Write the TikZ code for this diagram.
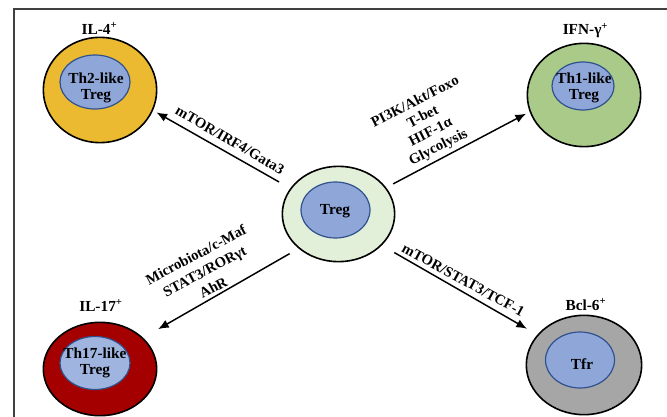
\documentclass[tikz,border=0pt]{standalone}
\usepackage{fontspec}
\setmainfont{Liberation Serif}
\usetikzlibrary{shapes.geometric,arrows.meta}
\definecolor{cYellow}{RGB}{236,186,48}
\definecolor{cGreen}{RGB}{170,202,138}
\definecolor{cRed}{RGB}{165,0,0}
\definecolor{cGray}{RGB}{166,166,166}
\definecolor{cPale}{RGB}{226,240,217}
\definecolor{cBlue}{RGB}{143,166,216}
\definecolor{cBlueLight}{RGB}{160,180,224}
\definecolor{cBorder}{RGB}{47,82,143}
\definecolor{cFrame}{RGB}{64,64,64}
\begin{document}
\begin{tikzpicture}[x=0.75pt,y=-0.75pt,
  outercell/.style={ellipse, draw=black, line width=1.2pt, inner sep=0pt, outer sep=0pt},
  innercell/.style={ellipse, draw=cBorder, line width=0.9pt, fill=cBlue, inner sep=0pt, outer sep=0pt},
  celltext/.style={font=\fontsize{11.5}{11.5}\selectfont\bfseries, align=center, inner sep=0pt},
  marker/.style={font=\fontsize{11.5}{11.5}\selectfont\bfseries, inner sep=0pt, anchor=base},
  pathlabel/.style={font=\fontsize{11}{13}\selectfont\bfseries, align=center, inner sep=0pt},
  arr/.style={-{Latex[length=8pt,width=6.5pt]}, line width=1.1pt}
]
\useasboundingbox (0,0) rectangle (667,417);
\fill[white] (0,0) rectangle (667,417);
\draw[line width=0.8pt, cFrame] (14,417) -- (14,9) -- (667,9);

% IL-4 cell
\node[outercell, fill=cYellow, minimum width=85pt, minimum height=79pt] (il4) at (100,90) {};
\node[innercell, minimum width=52.5pt, minimum height=40.5pt] (th2) at (95,82) {};
\node[celltext] (th2t) at (96,88) {Th2-like\\Treg};
\node[marker] (il4l) at (99.5,34.3) {IL-4\textsuperscript{+}};

% IFN cell
\node[outercell, fill=cGreen, minimum width=85pt, minimum height=77.5pt] (ifn) at (584,95) {};
\node[innercell, minimum width=46.5pt, minimum height=36pt] (th1) at (583,86) {};
\node[celltext] (th1t) at (584,88) {Th1-like\\Treg};
\node[marker] (ifnl) at (585.5,35) {IFN-γ\textsuperscript{+}};

% IL-17 cell
\node[outercell, fill=cRed, minimum width=85pt, minimum height=70pt] (il17) at (100,369) {};
\node[innercell, fill=cBlueLight, minimum width=52.5pt, minimum height=39.75pt] (th17) at (95,363) {};
\node[celltext] (th17t) at (95,363) {Th17-like\\Treg};
\node[marker] (il17l) at (101,311) {IL-17\textsuperscript{+}};

% Bcl-6 cell
\node[outercell, fill=cGray, minimum width=86.5pt, minimum height=74.5pt] (bcl6) at (584,365) {};
\node[innercell, minimum width=51.75pt, minimum height=42pt] (tfr) at (580,360) {};
\node[celltext] (tfrt) at (582,364) {Tfr};
\node[marker] (bcl6l) at (586,310.7) {Bcl-6\textsuperscript{+}};

% Treg center
\node[outercell, fill=cPale, minimum width=84.25pt, minimum height=71.5pt] (treg) at (338.5,214) {};
\node[innercell, minimum width=51.75pt, minimum height=42pt] (tregin) at (335.5,210) {};
\node[celltext] (tregt) at (335,211) {Treg};

% arrows
\draw[arr, shorten <=10.2pt, shorten >=3.5pt] (treg.152.87) -- (il4.-21.1);
\draw[arr, shorten <=6.5pt, shorten >=3.6pt] (treg.29.63) -- (ifn.-163.93);
\draw[arr, shorten <=8.3pt, shorten >=13.5pt] (treg.-139.8) -- (il17.36.4);
\draw[arr, shorten <=11.4pt, shorten >=9.5pt] (treg.-36.96) -- (bcl6.147.0);

% labels
\node[pathlabel, rotate=-30] (lab1) at (230,140) {mTOR/IRF4/Gata3};
\node[pathlabel, rotate=27, font=\fontsize{11}{12.75}\selectfont\bfseries] (lab2) at (427,125) {PI3K/Akt/Foxo\\T-bet\\HIF-1α\\Glycolysis};
\node[pathlabel, rotate=28, font=\fontsize{11}{13.9}\selectfont\bfseries] (lab3) at (204.5,271) {Microbiota/c-Maf\\STAT3/RORγt\\AhR};
\node[pathlabel, rotate=-28.6] (lab4) at (463.3,280) {mTOR/STAT3/TCF-1};
\end{tikzpicture}
\end{document}
